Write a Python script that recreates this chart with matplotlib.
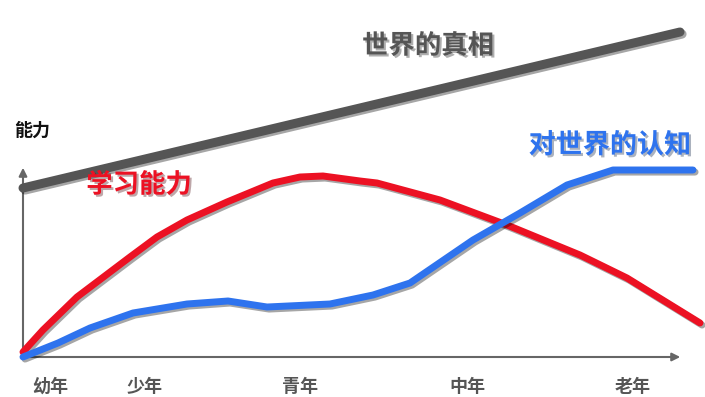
import matplotlib
matplotlib.use("Agg")
import matplotlib.pyplot as plt
import matplotlib.patheffects as pe

plt.rcParams['font.family'] = ['Noto Sans CJK SC', 'DejaVu Sans']

# ages along the x axis (arbitrary units), levels on y
stage_labels = ['幼年', '少年', '青年', '中年', '老年']
stage_pos = [27, 122, 277, 444, 610]

learn_x = [0, 20, 54, 107, 134, 164, 204, 250, 277, 300, 337, 354, 417, 484, 557, 604, 677]
learn_y = [5, 27, 60, 100, 120, 137, 155, 174, 180, 181, 176, 174, 157, 132, 102, 79, 34]

know_x = [0, 35, 67, 110, 164, 205, 244, 307, 350, 387, 450, 497, 544, 590, 670]
know_y = [0, 14, 29, 44, 53, 56, 50, 53, 62, 74, 117, 144, 172, 187, 187]

truth_x = [0, 657]
truth_y = [169, 325]

fig = plt.figure(figsize=(7.05, 3.97), dpi=100)
ax = fig.add_axes([0, 0, 1, 1])
ax.set_xlim(-23, 682)
ax.set_ylim(-40, 357)
ax.axis('off')

shadow = [pe.SimpleLineShadow(offset=(1.5, -1.5), shadow_color='k', alpha=0.35), pe.Normal()]

# axes with arrows
axis_col = '#666666'
ax.annotate('', xy=(660, 0), xytext=(0, 0),
            arrowprops=dict(arrowstyle='-|>', color=axis_col, lw=1.5, mutation_scale=12))
ax.annotate('', xy=(0, 192), xytext=(0, 0),
            arrowprops=dict(arrowstyle='-|>', color=axis_col, lw=1.5, mutation_scale=12))

ax.plot(truth_x, truth_y, color='#555555', lw=6.5, solid_capstyle='round', path_effects=shadow, zorder=3)
ax.plot(learn_x, learn_y, color='#ec1123', lw=5, solid_capstyle='round', solid_joinstyle='round',
        path_effects=shadow, zorder=4)
ax.plot(know_x, know_y, color='#2e73ee', lw=5, solid_capstyle='round', solid_joinstyle='round',
        path_effects=shadow, zorder=5)

for lab, xp in zip(stage_labels, stage_pos):
    ax.text(xp, -29, lab, ha='center', va='center', fontsize=13, fontweight='bold', color='#555555')

ax.text(-9, 227, '能力', ha='left', va='center', fontsize=13, fontweight='bold', color='#111111')

txt_shadow = [pe.withSimplePatchShadow(offset=(1.5, -1.5), alpha=0.35)]
ax.text(405, 311, '世界的真相', ha='center', va='center', fontsize=19, fontweight='bold',
        color='#555555', path_effects=txt_shadow)
ax.text(116, 172, '学习能力', ha='center', va='center', fontsize=19, fontweight='bold',
        color='#ec1123', path_effects=txt_shadow)
ax.text(587, 212, '对世界的认知', ha='center', va='center', fontsize=19.5, fontweight='bold',
        color='#2e73ee', path_effects=txt_shadow)

fig.savefig('out.png', dpi=100)
